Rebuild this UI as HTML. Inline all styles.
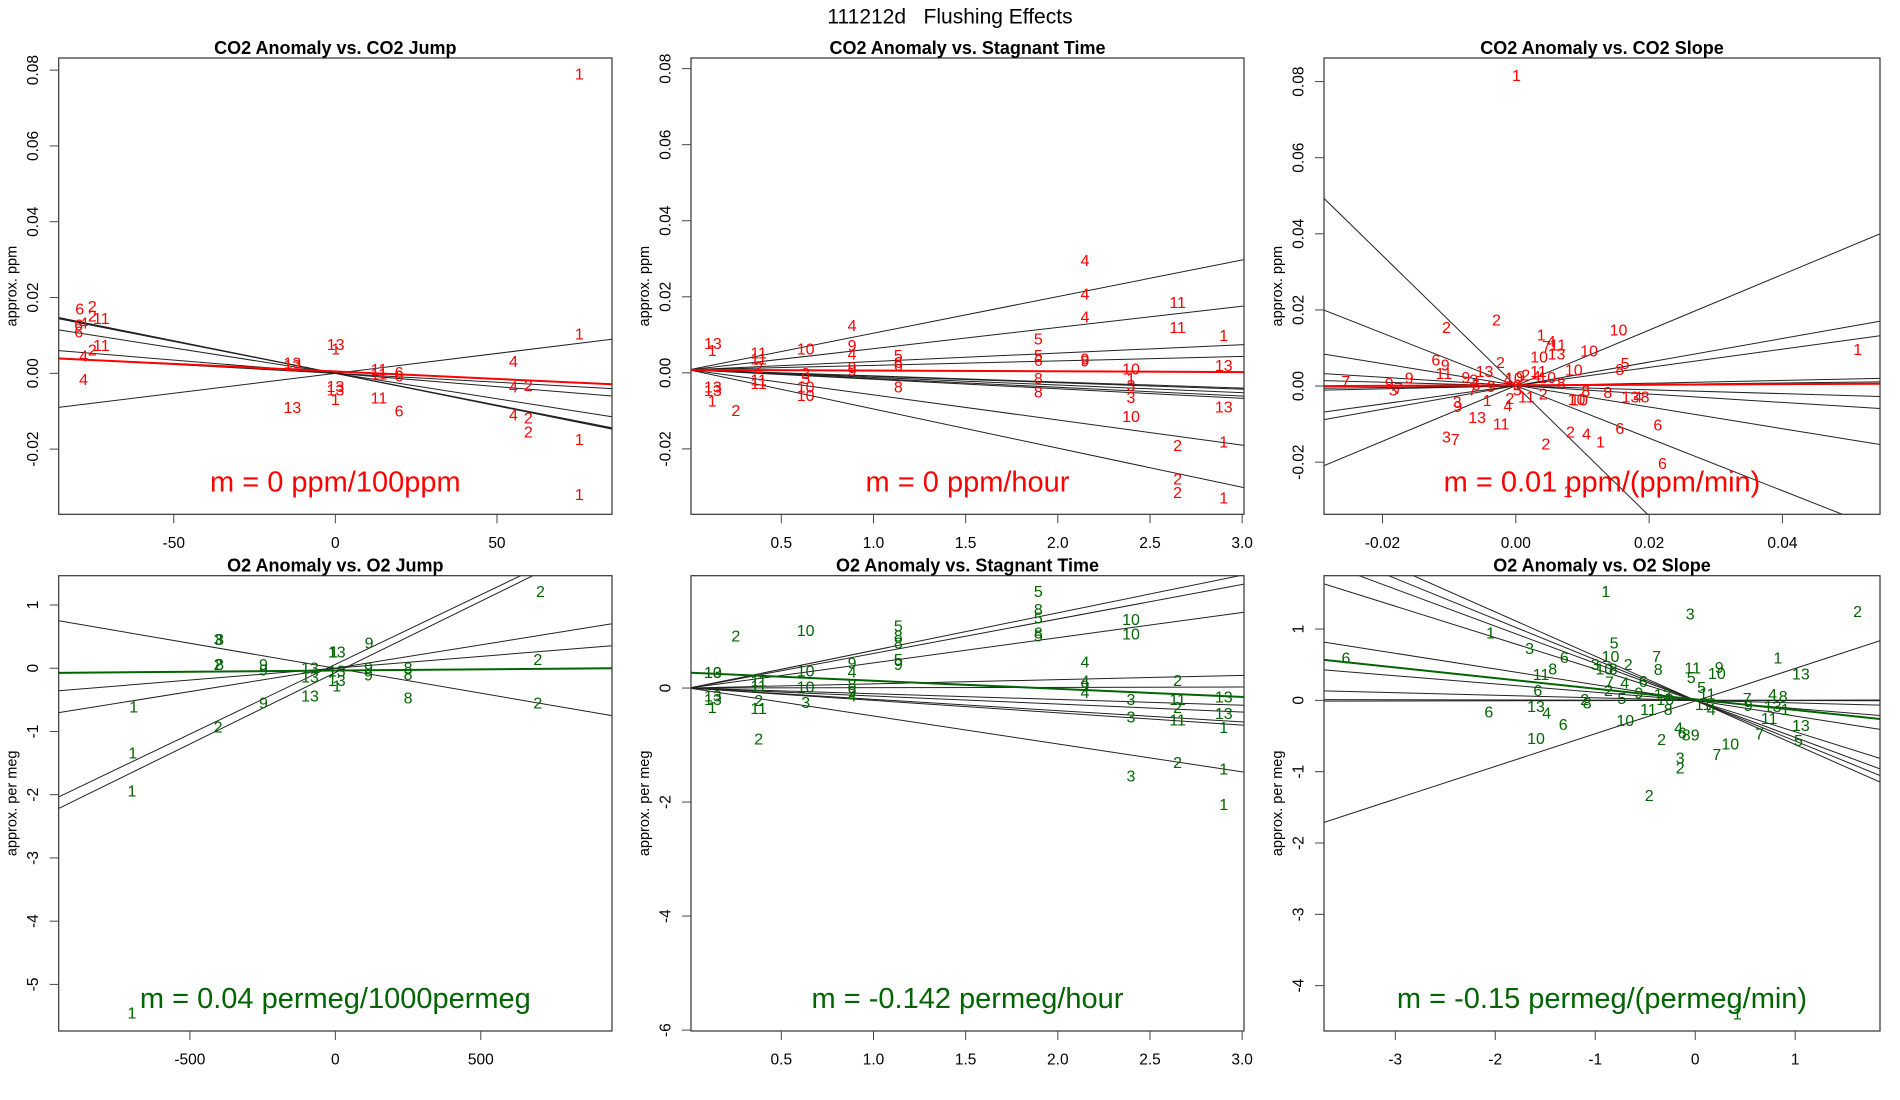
<!DOCTYPE html>
<html>
<head>
<meta charset="utf-8">
<style>
  html,body{margin:0;padding:0;background:#fff;}
  svg{display:block;font-family:"Liberation Sans",sans-serif;}
</style>
</head>
<body>
<svg id="fig" width="1900" height="1100" viewBox="0 0 1900 1100" xmlns="http://www.w3.org/2000/svg">
  <rect x="0" y="0" width="1900" height="1100" fill="#fff"/>
  <text x="950" y="17" font-size="21" text-anchor="middle" dominant-baseline="central" fill="#000">111212d&#160;&#160;&#160;Flushing Effects</text>
</svg>
<script>
// ---------- Panel 1: CO2 Anomaly vs. CO2 Jump ----------
const p1X = [75.5,-79.1,-75.2,-79.4,-77.9,-79.4,-75.2,-72.4,-72.4,-75.2,-77.9,-77.9,0.1,0.1,-13.3,-13.3,-13.3,0,0,0,13.5,13.5,13.5,19.7,19.7,19.7,75.5,55.1,55.1,59.7,55.1,59.7,59.7,75.5,75.5];
const p1Y = [0.0787,0.0167,0.0174,0.0125,0.013,0.0106,0.0148,0.0142,0.0071,0.0059,0.0043,-0.0019,0.0074,0.0062,0.0024,0.0018,-0.0093,-0.0037,-0.0046,-0.0072,0.0008,-0.0004,-0.0068,-0.0001,-0.001,-0.0102,0.0101,0.0029,-0.0039,-0.0035,-0.0112,-0.0121,-0.0157,-0.0177,-0.0323];
const p1L = ["1","6","2","6","4","6","2","11","11","2","4","4","13","1","13","13","13","13","13","1","11","11","11","6","6","6","1","4","4","2","4","2","2","1","1"];
const p1Slopes = [-0.00017,-0.000172,-0.000168,-0.000134,-0.00007,-0.000047,0.000105];
const p1Ints = [0,0,0,0,0,0,0];
const p1Fit = [0.0005,-0.0000397];
const p1XTicks = [-50,0,50];
const p1XTickLabels = ["-50","0","50"];
const p1YTicks = [0.08,0.06,0.04,0.02,0,-0.02];
const p1YTickLabels = ["0.08","0.06","0.04","0.02","0.00","-0.02"];

// ---------- Panel 2: CO2 Anomaly vs. Stagnant Time ----------
const p2X = [0.129,0.125,0.129,0.129,0.125,0.253,
  0.377,0.377,0.377,0.377,0.377,
  0.632,0.632,0.632,0.632,0.632,
  0.884,0.884,0.884,0.884,0.884,
  1.135,1.135,1.135,1.135,
  1.894,1.894,1.894,1.894,1.894,
  2.147,2.147,2.147,2.147,2.147,
  2.65,2.65,2.65,2.65,2.65,
  2.397,2.397,2.397,2.397,2.397,
  2.9,2.9,2.9,2.9,2.9];
const p2Y = [0.0074,0.0056,-0.004,-0.0049,-0.0077,-0.0102,
  0.0049,0.0034,0.0012,-0.0021,-0.003,
  0.006,-0.0005,-0.0018,-0.004,-0.0062,
  0.0122,0.0069,0.0047,0.0012,0.0004,
  0.0043,0.0025,0.0017,-0.004,
  0.0087,0.0043,0.003,-0.0018,-0.0053,
  0.0293,0.0205,0.0144,0.0034,0.0028,
  0.0182,0.0116,-0.0194,-0.0282,-0.0317,
  0.0008,-0.0018,-0.0036,-0.0067,-0.0118,
  0.0096,0.0017,-0.0093,-0.0185,-0.0332];
const p2L = ["13","1","13","13","1","2",
  "11","11","2","11","11",
  "10","3","5","10","10",
  "4","9","4","9","9",
  "5","6","6","8",
  "5","5","6","8","8",
  "4","4","4","9","9",
  "11","11","2","2","2",
  "10","1","3","3","10",
  "1","13","13","1","1"];
const p2Slopes = [0.00963,0.00557,0.0022,0.00117,-0.0016,-0.0017,-0.002,-0.0023,-0.0025,-0.0066,-0.0103];
const p2Ints = [0.0008,0.0008,0.0008,0.0008,0.0008,0.0008,0.0008,0.0008,0.0008,0.0008,0.0008];
const p2Fit = [0.0008,-0.0002];
const p2XTicks = [0.5,1.0,1.5,2.0,2.5,3.0];
const p2XTickLabels = ["0.5","1.0","1.5","2.0","2.5","3.0"];
const p2YTicks = [0.08,0.06,0.04,0.02,0,-0.02];
const p2YTickLabels = ["0.08","0.06","0.04","0.02","0.00","-0.02"];

// ---------- Panel 3: CO2 Anomaly vs. CO2 Slope ----------
const p3X = [0.0001,-0.0104,-0.0029,0.0038,0.0053,0.0046,0.0063,0.0154,0.0035,0.0061,0.011,0.0513,
  -0.012,-0.0106,-0.0108,-0.0023,-0.0047,-0.0075,-0.0063,-0.0255,-0.016,-0.019,-0.0184,-0.0176,
  -0.0065,-0.006,-0.0037,-0.0012,-0.0003,0.0007,0.0015,0.0034,0.0031,0.0047,0.0041,0.0002,0.0002,
  0.0016,-0.0009,-0.0012,-0.0043,0.0087,0.0068,0.0164,0.0156,0.0105,0.0091,0.0095,0.0138,0.0172,0.0183,0.0194,
  -0.0088,-0.0087,-0.0058,-0.0022,-0.0104,-0.0091,0.0082,0.0106,0.0127,0.0156,0.0213,0.0045,0.022,0.0078];
const p3Y = [0.0814,0.0151,0.0171,0.0131,0.0114,0.0101,0.0105,0.0144,0.0074,0.0081,0.009,0.0094,
  0.0066,0.0053,0.0031,0.0059,0.0035,0.002,0.0013,0.0009,0.0018,0.0004,-0.0013,-0.0009,
  -0.0013,0,-0.0004,0.0015,0.0018,0.0022,0.0026,0.0035,0.0022,0.002,-0.0024,-0.0013,0,
  -0.0031,-0.0035,-0.0055,-0.0041,0.0039,0.0006,0.0057,0.0041,-0.0015,-0.0038,-0.0039,-0.002,-0.0031,-0.0032,-0.0032,
  -0.0044,-0.0057,-0.0085,-0.0102,-0.0136,-0.0143,-0.0123,-0.0129,-0.0149,-0.0114,-0.0105,-0.0155,-0.0206,-0.028];
const p3L = ["1","2","2","1","4","7","11","10","10","13","10","1",
  "6","9","11","2","13","9","3","7","9","9","3","7",
  "7","6","9","4","10","9","2","11","4","10","2","5","6",
  "11","2","4","1","10","8","5","8","8","10","10","8","13","4","8",
  "3","9","13","11","3","7","2","4","1","6","6","2","6","1"];
const p3Slopes = [-1.71,-0.69,-0.285,-0.11,-0.05,0.02,0.037,0.24,0.31,0.73];
const p3Ints = [0.0001,0.0001,0.0002,0.0001,0,0,0,0.0001,0.0001,0.0001];
const p3Fit = [0.0002,0.0075];
const p3XTicks = [-0.02,0,0.02,0.04];
const p3XTickLabels = ["-0.02","0.00","0.02","0.04"];
const p3YTicks = [0.08,0.06,0.04,0.02,0,-0.02];
const p3YTickLabels = ["0.08","0.06","0.04","0.02","0.00","-0.02"];

// ---------- Panel 4: O2 Anomaly vs. O2 Jump ----------
const p4X = [705,-403,-398,-5,5,116,-403,-398,-247,-247,-87,-87,5,5,5,114,114,250,250,696,-87,250,696,-247,-693,-403,-696,-699,-699];
const p4Y = [1.2,0.437,0.437,0.242,0.242,0.384,0.042,0.042,0.042,-0.047,-0.01,-0.158,-0.063,-0.21,-0.3,-0.01,-0.126,-0.01,-0.116,0.121,-0.458,-0.484,-0.563,-0.563,-0.632,-0.947,-1.353,-1.958,-5.47];
const p4L = ["2","3","8","1","13","9","2","8","9","9","13","13","13","13","1","9","9","8","8","2","13","8","2","9","1","2","1","1","1"];
const p4Slopes = [-0.000789,0.000374,0.000739,0.002203,0.002258];
const p4Ints = [0,0,0,0.06,-0.07];
const p4Fit = [-0.037,0.0000388];
const p4XTicks = [-500,0,500];
const p4XTickLabels = ["-500","0","500"];
const p4YTicks = [1,0,-1,-2,-3,-4,-5];
const p4YTickLabels = ["1","0","-1","-2","-3","-4","-5"];

// ---------- Panel 5: O2 Anomaly vs. Stagnant Time ----------
const p5X = [0.253,0.632,0.129,0.129,0.129,0.129,0.125,0.377,0.377,0.377,0.377,0.377,
  0.632,0.632,0.632,0.884,0.884,0.884,0.884,0.884,
  1.135,1.135,1.135,1.135,1.135,
  1.894,1.894,1.894,1.894,1.894,
  2.147,2.147,2.147,2.147,
  2.397,2.397,2.397,2.397,2.397,
  2.65,2.65,2.65,2.65,2.65,
  2.9,2.9,2.9,2.9,2.9];
const p5Y = [0.892,0.991,0.251,-0.157,-0.216,0.251,-0.362,0.105,0.017,-0.233,-0.379,-0.915,
  0.28,0,-0.274,0.426,0.268,0.047,-0.082,-0.157,
  1.067,0.892,0.776,0.484,0.397,
  1.679,1.359,1.213,0.95,0.892,
  0.443,0.105,0.017,-0.099,
  1.184,0.933,-0.216,-0.525,-1.557,
  0.117,-0.216,-0.362,-0.577,-1.324,
  -0.175,-0.466,-0.711,-1.44,-2.064];
const p5L = ["2","10","13","13","13","10","1","11","11","2","11","2",
  "10","10","3","9","4","8","9","4",
  "5","8","8","5","9",
  "5","8","5","8","5",
  "4","4","9","4",
  "10","10","3","3","3",
  "2","11","2","11","2",
  "13","13","1","1","1"];
const p5Slopes = [0.66,0.606,0.442,0.074,0.006,-0.1,-0.14,-0.198,-0.217,-0.49];
const p5Ints = [0,0,0,0,0,0,0,0,0,0];
const p5Fit = [0.27,-0.142];
const p5XTicks = [0.5,1.0,1.5,2.0,2.5,3.0];
const p5XTickLabels = ["0.5","1.0","1.5","2.0","2.5","3.0"];
const p5YTicks = [0,-2,-4,-6];
const p5YTickLabels = ["0","-2","-4","-6"];

// ---------- Panel 6: O2 Anomaly vs. O2 Slope ----------
const p6X = [-0.894,-0.05,1.624,-2.047,-1.657,-1.309,-0.812,-0.848,-3.493,-1.0,-0.91,-0.82,-0.67,-0.387,-0.37,-0.025,-0.04,0.24,0.216,0.826,1.057,
  -1.425,-1.542,-0.521,-0.858,-0.705,-0.868,0.064,-1.574,-0.564,-0.734,-1.106,-1.08,-1.592,-1.486,-2.064,-1.32,-0.7,-0.468,-0.326,-0.27,-0.3,
  0.12,0.08,0.16,0.52,0.53,0.774,0.88,0.774,0.9,0.74,1.057,0.643,1.032,-0.166,-0.13,-0.09,0.0,-0.336,-1.592,0.35,0.216,-0.15,-0.15,-0.46,0.42];
const p6Y = [1.514,1.196,1.234,0.93,0.71,0.589,0.79,0.603,0.579,0.486,0.425,0.425,0.486,0.603,0.42,0.44,0.308,0.449,0.36,0.579,0.355,
  0.425,0.346,0.252,0.243,0.229,0.121,0.168,0.121,0.089,0.009,-0.005,-0.05,-0.098,-0.192,-0.178,-0.355,-0.294,-0.145,0.065,-0.145,0,
  0.075,-0.075,-0.145,0.01,-0.084,0.065,0.042,-0.098,-0.145,-0.271,-0.364,-0.486,-0.579,-0.402,-0.47,-0.5,-0.5,-0.565,-0.551,-0.626,-0.776,-0.822,-0.963,-1.346,-4.41];
const p6L = ["1","3","2","1","3","6","5","10","6","3","10","8","2","7","8","11","5","9","10","1","13",
  "8","11","6","7","4","2","5","6","9","5","2","8","13","4","6","6","10","11","13","8","10",
  "11","11","4","7","9","4","8","13","1","11","13","7","5","4","6","8","9","2","10","10","7","3","2","2","1"];
const p6Slopes = [-0.62,-0.57,-0.52,-0.44,-0.22,-0.115,-0.036,0.003,-0.003,0.458];
const p6Ints = [0,0,0,0,0,0,0,0,0,-0.01];
const p6Fit = [0.014,-0.149];
const p6XTicks = [-3,-2,-1,0,1];
const p6XTickLabels = ["-3","-2","-1","0","1"];
const p6YTicks = [1,0,-1,-2,-3,-4];
const p6YTickLabels = ["1","0","-1","-2","-3","-4"];

const RED = "#ff0000", GREEN = "#006400";
const NS = "http://www.w3.org/2000/svg";
const svg = document.getElementById("fig");

function mk(tag, attrs, parent) {
  const e = document.createElementNS(NS, tag);
  for (const k in attrs) e.setAttribute(k, attrs[k]);
  parent.appendChild(e);
  return e;
}

const panels = [
  {id:"co2-jump", title:"CO2 Anomaly vs. CO2 Jump", ylab:"approx. ppm", box:[58.7,612,58,514.3], xlim:[-85.6,85.6], ylim:[-0.0372,0.0832],
   X:p1X, Y:p1Y, L:p1L, S:p1Slopes, I:p1Ints, F:p1Fit, xt:p1XTicks, xtl:p1XTickLabels, yt:p1YTicks, ytl:p1YTickLabels, col:RED, m:"m = 0 ppm/100ppm"},
  {id:"co2-stagnant", title:"CO2 Anomaly vs. Stagnant Time", ylab:"approx. ppm", box:[691,1244,58,514.3], xlim:[0.01,3.01], ylim:[-0.0372,0.0828],
   X:p2X, Y:p2Y, L:p2L, S:p2Slopes, I:p2Ints, F:p2Fit, xt:p2XTicks, xtl:p2XTickLabels, yt:p2YTicks, ytl:p2YTickLabels, col:RED, m:"m = 0 ppm/hour"},
  {id:"co2-slope", title:"CO2 Anomaly vs. CO2 Slope", ylab:"approx. ppm", box:[1324,1880,58,514.3], xlim:[-0.02878,0.05464], ylim:[-0.0337,0.0862],
   X:p3X, Y:p3Y, L:p3L, S:p3Slopes, I:p3Ints, F:p3Fit, xt:p3XTicks, xtl:p3XTickLabels, yt:p3YTicks, ytl:p3YTickLabels, col:RED, m:"m = 0.01 ppm/(ppm/min)"},
  {id:"o2-jump", title:"O2 Anomaly vs. O2 Jump", ylab:"approx. per meg", box:[58.7,612,575.7,1031], xlim:[-951,951], ylim:[-5.737,1.463],
   X:p4X, Y:p4Y, L:p4L, S:p4Slopes, I:p4Ints, F:p4Fit, xt:p4XTicks, xtl:p4XTickLabels, yt:p4YTicks, ytl:p4YTickLabels, col:GREEN, m:"m = 0.04 permeg/1000permeg"},
  {id:"o2-stagnant", title:"O2 Anomaly vs. Stagnant Time", ylab:"approx. per meg", box:[691,1244,575.7,1031], xlim:[0.01,3.01], ylim:[-6.016,1.971],
   X:p5X, Y:p5Y, L:p5L, S:p5Slopes, I:p5Ints, F:p5Fit, xt:p5XTicks, xtl:p5XTickLabels, yt:p5YTicks, ytl:p5YTickLabels, col:GREEN, m:"m = -0.142 permeg/hour"},
  {id:"o2-slope", title:"O2 Anomaly vs. O2 Slope", ylab:"approx. per meg", box:[1324,1880,575.7,1031], xlim:[-3.713,1.848], ylim:[-4.636,1.748],
   X:p6X, Y:p6Y, L:p6L, S:p6Slopes, I:p6Ints, F:p6Fit, xt:p6XTicks, xtl:p6XTickLabels, yt:p6YTicks, ytl:p6YTickLabels, col:GREEN, m:"m = -0.15 permeg/(permeg/min)"}
];

function drawPanel(P) {
  const [x0, x1, y0, y1] = P.box;
  const sx = v => x0 + (v - P.xlim[0]) / (P.xlim[1] - P.xlim[0]) * (x1 - x0);
  const sy = v => y1 - (v - P.ylim[0]) / (P.ylim[1] - P.ylim[0]) * (y1 - y0);

  const g = mk("g", {}, svg);
  
  

  const defs = mk("defs", {}, g);
  const cp = mk("clipPath", {id: "clip-" + P.id}, defs);
  mk("rect", {x: x0, y: y0, width: x1 - x0, height: y1 - y0}, cp);

  const plot = mk("g", {"clip-path": "url(#clip-" + P.id + ")"}, g);
  
  

  for (let i = 0; i < P.S.length; i++) {
    const xa = P.xlim[0], xb = P.xlim[1];
    const ln = mk("line", {x1: sx(xa), y1: sy(P.I[i] + P.S[i] * xa), x2: sx(xb), y2: sy(P.I[i] + P.S[i] * xb), stroke: "#222", "stroke-width": 1}, plot);
    
    
  }
  {
    const xa = P.xlim[0], xb = P.xlim[1];
    const ln = mk("line", {x1: sx(xa), y1: sy(P.F[0] + P.F[1] * xa), x2: sx(xb), y2: sy(P.F[0] + P.F[1] * xb), stroke: P.col, "stroke-width": 2}, plot);
    
    
  }
  for (let i = 0; i < P.X.length; i++) {
    const t = mk("text", {x: sx(P.X[i]), y: sy(P.Y[i]), "font-size": 16, fill: P.col, "text-anchor": "middle", "dominant-baseline": "central"}, plot);
    t.textContent = P.L[i];
    
    
  }
  const mt = mk("text", {x: (x0 + x1) / 2, y: y1 - 32, "font-size": 29, fill: P.col, "text-anchor": "middle", "dominant-baseline": "central"}, g);
  mt.textContent = P.m;
  
  

  const bx = mk("rect", {x: x0, y: y0, width: x1 - x0, height: y1 - y0, fill: "none", stroke: "#333", "stroke-width": 1.2}, g);
  
  

  for (let i = 0; i < P.xt.length; i++) {
    const X = sx(P.xt[i]);
    const tk = mk("line", {x1: X, y1: y1, x2: X, y2: y1 + 9, stroke: "#444", "stroke-width": 1}, g);
    
    
    const tl = mk("text", {x: X, y: y1 + 29, "font-size": 15.5, fill: "#000", "text-anchor": "middle", "dominant-baseline": "central"}, g);
    tl.textContent = P.xtl[i];
    
    
  }
  for (let i = 0; i < P.yt.length; i++) {
    const Y = sy(P.yt[i]);
    const tk = mk("line", {x1: x0 - 9, y1: Y, x2: x0, y2: Y, stroke: "#444", "stroke-width": 1}, g);
    
    
    const lx = x0 - 25;
    const tl = mk("text", {x: lx, y: Y, "font-size": 15.5, fill: "#000", "text-anchor": "middle", "dominant-baseline": "central", transform: "rotate(-90 " + lx + " " + Y + ")"}, g);
    tl.textContent = P.ytl[i];
    
    
  }
  const ly = (y0 + y1) / 2, lx2 = x0 - 46;
  const yl = mk("text", {x: lx2, y: ly, "font-size": 14.5, fill: "#000", "text-anchor": "middle", "dominant-baseline": "central", transform: "rotate(-90 " + lx2 + " " + ly + ")"}, g);
  yl.textContent = P.ylab;
  
  
  const tt = mk("text", {x: (x0 + x1) / 2, y: y0 - 10, "font-size": 18, "font-weight": "bold", fill: "#000", "text-anchor": "middle", "dominant-baseline": "central"}, g);
  tt.textContent = P.title;
  
  
}

panels.forEach(drawPanel);
</script>
</body>
</html>
